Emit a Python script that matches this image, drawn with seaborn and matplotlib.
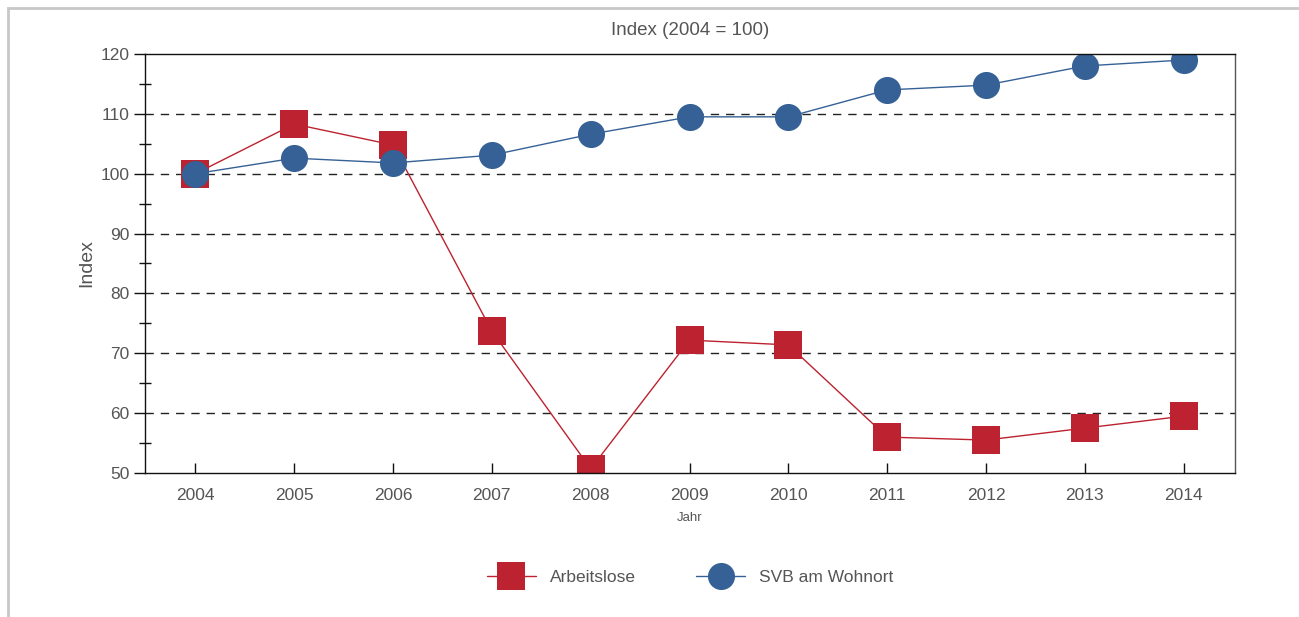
import pandas as pd
import matplotlib
matplotlib.use("Agg")
import matplotlib.pyplot as plt
import seaborn as sns
from matplotlib.patches import Rectangle
from matplotlib.ticker import MultipleLocator

# data
years = [2004, 2005, 2006, 2007, 2008, 2009, 2010, 2011, 2012, 2013, 2014]
arbeitslose = [100.0, 108.3, 104.8, 73.7, 50.7, 72.2, 71.4, 56.0, 55.5, 57.5, 59.5]
svb_wohnort = [100.0, 102.6, 101.8, 103.1, 106.6, 109.5, 109.5, 114.0, 114.8, 118.0, 119.0]
series_names = ["Arbeitslose", "SVB am Wohnort"]

df = pd.DataFrame({
    "Jahr": years * 2,
    "Index": arbeitslose + svb_wohnort,
    "Reihe": [series_names[0]] * len(years) + [series_names[1]] * len(years),
})

sns.set_style("white")
plt.rcParams["font.family"] = ["Liberation Sans", "DejaVu Sans"]
txt = "#555555"

fig = plt.figure(figsize=(12.99, 6.17), dpi=100)
ax = fig.add_axes([145 / 1299, 1 - 473 / 617, 1090 / 1299, 419 / 617])

palette = {"Arbeitslose": "#BC222F", "SVB am Wohnort": "#366196"}
markers = {"Arbeitslose": "s", "SVB am Wohnort": "o"}
sns.lineplot(data=df, x="Jahr", y="Index", hue="Reihe", style="Reihe",
             palette=palette, markers=markers, dashes=False, markersize=19.5,
             markeredgewidth=0, linewidth=1, ax=ax, legend=True)

ax.set_xlim(2003.49, 2014.52)
ax.set_ylim(50, 120)
ax.set_xticks(years)
ax.set_xticklabels([str(y) for y in years])
ax.yaxis.set_major_locator(MultipleLocator(10))
ax.yaxis.set_minor_locator(MultipleLocator(5))

for y in range(60, 120, 10):
    ax.axhline(y, color="#222222", linestyle=(0, (6, 5)), linewidth=1, zorder=0)

for s in ax.spines.values():
    s.set_color("#111111")
    s.set_linewidth(1)
ax.spines["right"].set_color("#555555")

ax.tick_params(axis="y", which="major", direction="out", length=8, width=1,
               color="#111111", labelsize=12.5, labelcolor=txt, left=True, pad=3)
ax.tick_params(axis="y", which="minor", direction="inout", length=9, width=1,
               color="#111111", left=True)
ax.tick_params(axis="x", which="major", direction="in", length=7, width=1,
               color="#111111", labelsize=12.5, labelcolor=txt, bottom=True, pad=11)

ax.set_title("Index (2004 = 100)", fontsize=13.5, color=txt, pad=14)
ax.set_ylabel("Index", fontsize=14, color=txt, labelpad=4)
ax.set_xlabel("Jahr", fontsize=9.5, color=txt, labelpad=6)

handles, labels = ax.get_legend_handles_labels()
ax.get_legend().remove()
fig.legend(handles, labels, loc="center", bbox_to_anchor=(690 / 1299, 1 - 577 / 617),
           ncol=2, frameon=False, fontsize=12.5, labelcolor=txt, handlelength=2.8,
           columnspacing=3.5, handletextpad=0.8, markerscale=1.0)

fig.patches.append(Rectangle((8 / 1299, -0.1), 1.2, 1.1 - 8 / 617, transform=fig.transFigure,
                             fill=False, edgecolor="#c8c8c8", linewidth=2))

fig.savefig("out.png", dpi=100)
